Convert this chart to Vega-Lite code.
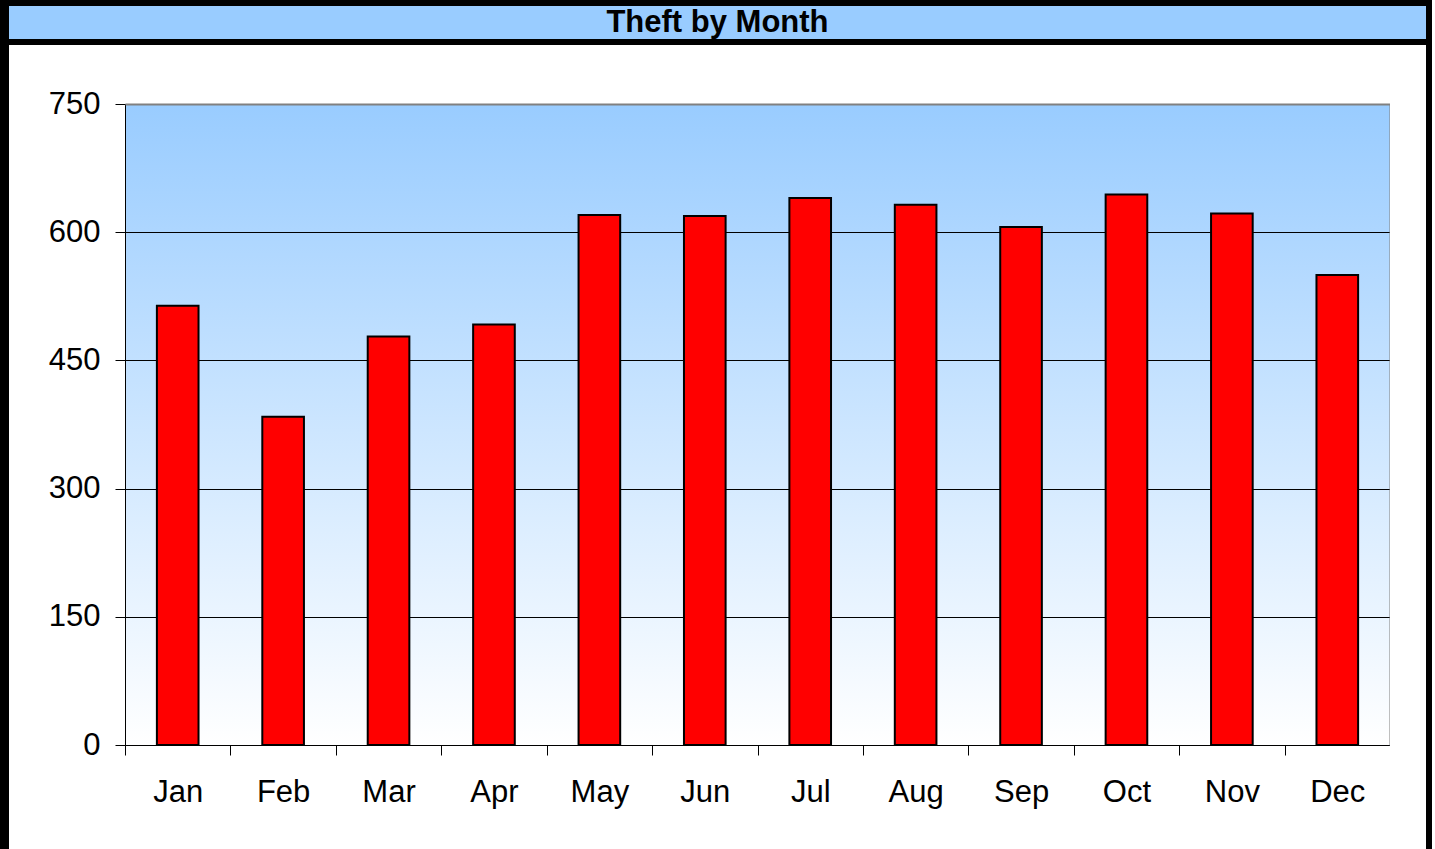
{
  "$schema": "https://vega.github.io/schema/vega-lite/v6.json",
  "background": "black",
  "padding": {"left": 9, "top": 6, "right": 6, "bottom": 0},
  "config": {"view": {"stroke": null}, "font": "Liberation Sans"},
  "datasets": {
    "theft": [
      {"month": "Jan", "thefts": 514},
      {"month": "Feb", "thefts": 384},
      {"month": "Mar", "thefts": 478},
      {"month": "Apr", "thefts": 492},
      {"month": "May", "thefts": 620},
      {"month": "Jun", "thefts": 619},
      {"month": "Jul", "thefts": 640},
      {"month": "Aug", "thefts": 632},
      {"month": "Sep", "thefts": 606},
      {"month": "Oct", "thefts": 644},
      {"month": "Nov", "thefts": 622},
      {"month": "Dec", "thefts": 550}
    ]
  },
  "spacing": 6,
  "vconcat": [
    {
      "width": 1417,
      "height": 33,
      "view": {"fill": "#99CCFF", "stroke": null},
      "data": {"values": [{"label": "Theft by Month"}]},
      "mark": {"type": "text", "fontSize": 31, "fontWeight": "bold", "font": "Liberation Sans", "color": "black", "baseline": "middle", "align": "center"},
      "encoding": {"text": {"field": "label", "type": "nominal"}}
    },
    {
      "spacing": 0,
      "bounds": "flush",
      "hconcat": [
        {
          "width": 116,
          "height": 804,
          "view": {"fill": "white", "stroke": null},
          "data": {"values": [{}]},
          "mark": {"type": "rect", "opacity": 0},
          "encoding": {}
        },
        {
          "width": 1265,
          "height": 804,
          "view": {
            "stroke": null,
            "fill": {
              "gradient": "linear",
              "x1": 0, "y1": 0, "x2": 0, "y2": 1,
              "stops": [
                {"offset": 0, "color": "#FFFFFF"},
                {"offset": 0.0734, "color": "#FFFFFF"},
                {"offset": 0.0735, "color": "#99CCFF"},
                {"offset": 0.8706, "color": "#FFFFFF"},
                {"offset": 1, "color": "#FFFFFF"}
              ]
            }
          },
          "data": {"name": "theft"},
          "resolve": {"axis": {"x": "independent", "y": "independent"}},
          "layer": [
            {
              "mark": {"type": "bar", "fill": "#FF0000", "stroke": "black", "strokeWidth": 2, "width": {"band": 0.395}},
              "encoding": {
                "x": {
                  "field": "month", "type": "nominal", "sort": null,
                  "scale": {"paddingInner": 0, "paddingOuter": 0},
                  "axis": {"orient": "bottom", "offset": -104, "title": null, "labelAngle": 0, "labelFontSize": 31, "labelFont": "Liberation Sans", "labelColor": "black", "labelPadding": 22, "tickBand": "extent", "tickSize": 10, "tickColor": "black", "domainColor": "black", "domainWidth": 1, "grid": false, "zindex": 1}
                },
                "y": {
                  "field": "thefts", "type": "quantitative",
                  "scale": {"domain": [0, 750], "range": [700, 59], "nice": false, "zero": true},
                  "axis": {"orient": "left", "values": [0, 150, 300, 450, 600, 750], "title": null, "labelFontSize": 31, "labelFont": "Liberation Sans", "labelColor": "black", "labelPadding": 15, "tickSize": 10, "tickColor": "black", "domainColor": "black", "domainWidth": 1, "grid": true, "gridColor": "black", "gridWidth": 1}
                }
              }
            },
            {
              "mark": {"type": "bar", "opacity": 0, "width": {"band": 0.395}},
              "encoding": {
                "x": {
                  "field": "month", "type": "nominal", "sort": null,
                  "axis": {"orient": "top", "offset": -59, "title": null, "labels": false, "ticks": false, "domainColor": "#808080", "domainWidth": 2, "grid": false, "zindex": 1}
                },
                "y": {
                  "field": "thefts", "type": "quantitative",
                  "axis": {"orient": "right", "title": null, "labels": false, "ticks": false, "domainColor": "#808080", "domainWidth": 2, "grid": false, "zindex": 1}
                }
              }
            }
          ]
        },
        {
          "width": 36,
          "height": 804,
          "view": {"fill": "white", "stroke": null},
          "data": {"values": [{}]},
          "mark": {"type": "rect", "opacity": 0},
          "encoding": {}
        }
      ]
    }
  ]
}
